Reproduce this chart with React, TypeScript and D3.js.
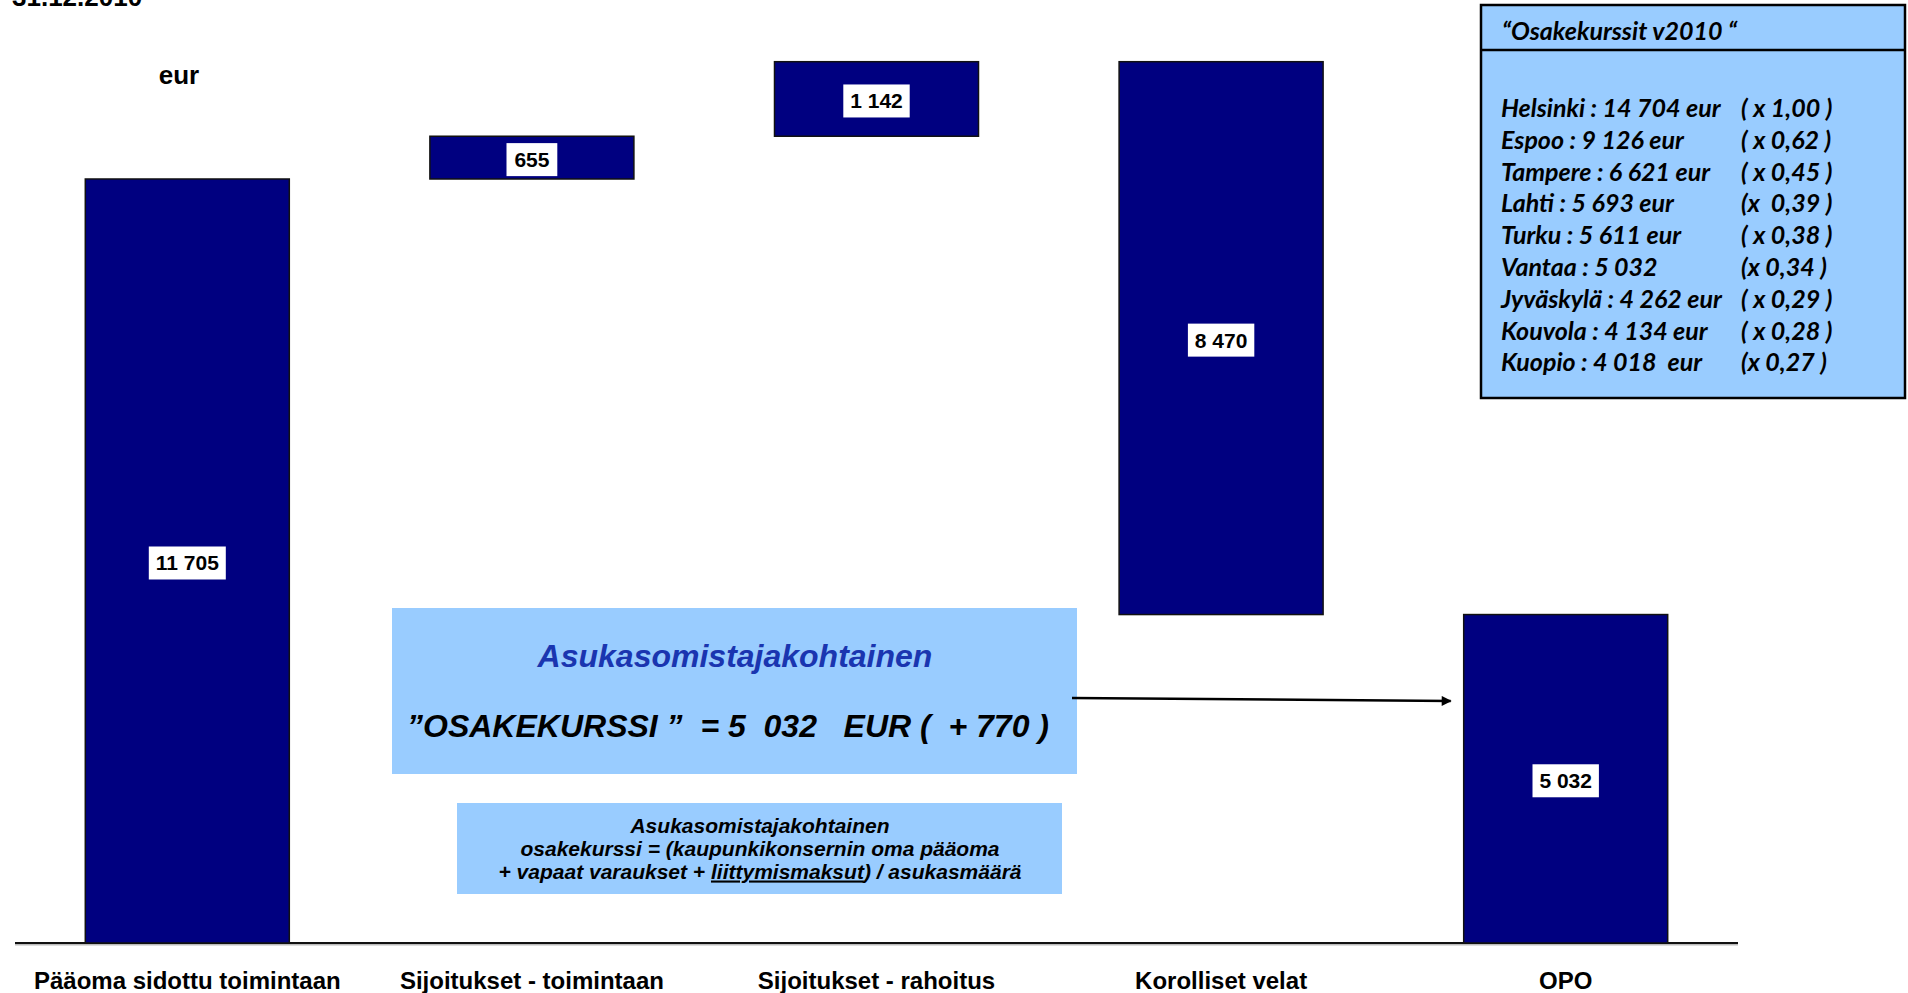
import React from "react";
import * as d3 from "d3";

// ---- Data ----
const categories = [
  "Pääoma sidottu toimintaan",
  "Sijoitukset - toimintaan",
  "Sijoitukset - rahoitus",
  "Korolliset velat",
  "OPO",
];
// waterfall: totals start at 0, deltas float on the running sum
const values = [11705, 655, 1142, -8470, 5032];
const kinds = ["total", "delta", "delta", "delta", "total"];

const dateLabel = "31.12.2010";
const unitLabel = "eur";

const legendTitle = "\u201COsakekurssit v2010 \u201C";
const legendNames = [
  "Helsinki : 14 704 eur",
  "Espoo : 9 126 eur",
  "Tampere : 6 621 eur",
  "Lahti : 5 693 eur",
  "Turku : 5 611 eur",
  "Vantaa : 5 032",
  "Jyväskylä : 4 262 eur",
  "Kouvola : 4 134 eur",
  "Kuopio : 4 018  eur",
];
const legendFactors = [
  "( x 1,00 )",
  "( x 0,62 )",
  "( x 0,45 )",
  "(x  0,39 )",
  "( x 0,38 )",
  "(x 0,34 )",
  "( x 0,29 )",
  "( x 0,28 )",
  "(x 0,27 )",
];

const boxTitle = "Asukasomistajakohtainen";
const boxValueLine = "\u201DOSAKEKURSSI \u201D  = 5  032   EUR (  + 770 )";
const noteLines = [
  "Asukasomistajakohtainen",
  "osakekurssi = (kaupunkikonsernin oma pääoma",
];
const noteLast = ["+ vapaat varaukset + ", "liittymismaksut", ") / asukasmäärä"];

// ---- Layout ----
const W = 1908;
const H = 993;
const baseY = 943;
const topY = 61.7;
const NAVY = "#000080";
const LIGHT = "#99CCFF";
const FONT = "'Liberation Sans', Arial, Helvetica, sans-serif";
const LFONT = "Lato, 'Open Sans', sans-serif";

const fmt = d3.formatLocale({
  thousands: " ",
  grouping: [3],
  decimal: ",",
  currency: ["", ""],
}).format(",");

type Bar = { cat: string; v: number; y0: number; y1: number };

function buildBars(): Bar[] {
  let run = 0;
  return categories.map((c, i) => {
    const v = values[i];
    let a: number, b: number;
    if (kinds[i] === "total") {
      a = 0;
      b = v;
      run = v;
    } else {
      a = run;
      b = run + v;
      run = b;
    }
    return { cat: c, v, y0: Math.min(a, b), y1: Math.max(a, b) };
  });
}

export default function App() {
  const bars = buildBars();
  const maxV = d3.max(bars, (d) => d.y1) as number;

  const x = d3
    .scaleBand<string>()
    .domain(categories)
    .range([15, 1738])
    .paddingInner(0.408)
    .paddingOuter(0.204);
  const y = d3.scaleLinear().domain([0, maxV]).range([baseY, topY]);

  const bw = x.bandwidth();

  // annotation geometry
  const bigBox = { x: 392, y: 608, w: 685, h: 166 };
  const noteBox = { x: 457, y: 803, w: 605, h: 91 };
  const lastX = (x(categories[4]) as number) - 13;
  const arrowY0 = 698;
  const arrowY1 = 701;

  const legend = { x: 1481, y: 5, w: 424, h: 393, header: 50 };
  const lfs = 25;

  return (
    <svg
      width={W}
      height={H}
      viewBox={`0 0 ${W} ${H}`}
      style={{ position: "absolute", left: 0, top: 0, background: "#fff" }}
    >
      <defs>
        <marker
          id="arr"
          viewBox="0 0 10 10"
          refX="9"
          refY="5"
          markerWidth="4.5"
          markerHeight="4"
          orient="auto"
          markerUnits="strokeWidth"
        >
          <path d="M0,0 L10,5 L0,10 z" fill="#000" />
        </marker>
      </defs>

      {/* date title */}
      <text x={12} y={6} fontFamily={FONT} fontWeight="bold" fontSize={26} fill="#000">
        {dateLabel}
      </text>
      <text
        x={179}
        y={84}
        textAnchor="middle"
        fontFamily={FONT}
        fontWeight="bold"
        fontSize={26}
        fill="#000"
      >
        {unitLabel}
      </text>

      {/* axis line */}
      <line x1={15} x2={1738} y1={baseY + 1.5} y2={baseY + 1.5} stroke="#bbb" strokeWidth={2} />
      <line x1={15} x2={1738} y1={baseY} y2={baseY} stroke="#111" strokeWidth={2} />

      {/* bars */}
      {bars.map((b) => {
        const bx = x(b.cat) as number;
        const yt = y(b.y1);
        const yb = y(b.y0);
        return (
          <rect
            key={b.cat}
            x={bx}
            y={yt}
            width={bw}
            height={yb - yt}
            fill={NAVY}
            stroke="#111"
            strokeWidth={1.5}
          />
        );
      })}

      {/* value labels */}
      {bars.map((b) => {
        const label = fmt(Math.abs(b.v));
        const cx = (x(b.cat) as number) + bw / 2;
        const cy = (y(b.y1) + y(b.y0)) / 2 + 2;
        const tw = label.length * 10.6 - (label.includes(" ") ? 5.6 : 0);
        const boxW = tw + 19;
        return (
          <g key={"l" + b.cat}>
            <rect x={cx - boxW / 2} y={cy - 16.5} width={boxW} height={33} fill="#fff" />
            <text
              x={cx}
              y={cy + 7.5}
              textAnchor="middle"
              fontFamily={FONT}
              fontWeight="bold"
              fontSize={21}
              fill="#000"
            >
              {label}
            </text>
          </g>
        );
      })}

      {/* category labels */}
      {categories.map((c) => (
        <text
          key={"c" + c}
          x={(x(c) as number) + bw / 2}
          y={989}
          textAnchor="middle"
          fontFamily={FONT}
          fontWeight="bold"
          fontSize={24}
          fill="#000"
        >
          {c}
        </text>
      ))}

      {/* big info box */}
      <rect x={bigBox.x} y={bigBox.y} width={bigBox.w} height={bigBox.h} fill={LIGHT} />
      <text
        x={735}
        y={667}
        textAnchor="middle"
        fontFamily={FONT}
        fontWeight="bold"
        fontStyle="italic"
        fontSize={32}
        fill="#1a35b0"
      >
        {boxTitle}
      </text>
      <text
        x={728}
        y={737}
        textAnchor="middle"
        fontFamily={FONT}
        fontWeight="bold"
        fontStyle="italic"
        fontSize={32}
        fill="#000"
        style={{ whiteSpace: "pre" }}
        xmlSpace="preserve"
      >
        {boxValueLine}
      </text>

      {/* arrow */}
      <line
        x1={bigBox.x + bigBox.w - 5}
        y1={arrowY0}
        x2={lastX}
        y2={arrowY1}
        stroke="#000"
        strokeWidth={2.5}
        markerEnd="url(#arr)"
      />

      {/* note box */}
      <rect x={noteBox.x} y={noteBox.y} width={noteBox.w} height={noteBox.h} fill={LIGHT} />
      {noteLines.map((t, i) => (
        <text
          key={"n" + i}
          x={760}
          y={832.5 + i * 23}
          textAnchor="middle"
          fontFamily={FONT}
          fontWeight="bold"
          fontStyle="italic"
          fontSize={21}
          fill="#000"
        >
          {t}
        </text>
      ))}
      <text
        x={760}
        y={832.5 + 2 * 23}
        textAnchor="middle"
        fontFamily={FONT}
        fontWeight="bold"
        fontStyle="italic"
        fontSize={21}
        fill="#000"
        style={{ whiteSpace: "pre" }}
        xmlSpace="preserve"
      >
        <tspan>{noteLast[0]}</tspan>
        <tspan textDecoration="underline" style={{ textDecoration: "underline" }}>
          {noteLast[1]}
        </tspan>
        <tspan>{noteLast[2]}</tspan>
      </text>

      {/* legend box */}
      <rect
        x={legend.x}
        y={legend.y}
        width={legend.w}
        height={legend.h}
        fill={LIGHT}
        stroke="#000"
        strokeWidth={2.5}
      />
      <line
        x1={legend.x}
        x2={legend.x + legend.w}
        y1={legend.header}
        y2={legend.header}
        stroke="#000"
        strokeWidth={2.5}
      />
      <text
        x={1502}
        y={40}
        fontFamily={LFONT}
        fontWeight="bold"
        fontStyle="italic"
        fontSize={lfs}
        fill="#000"
        style={{ whiteSpace: "pre" }}
        xmlSpace="preserve"
      >
        {legendTitle}
      </text>
      {legendNames.map((n, i) => (
        <g key={"lg" + i}>
          <text
            x={1501}
            y={117 + i * 31.8}
            fontFamily={LFONT}
            fontWeight="bold"
            fontStyle="italic"
            fontSize={lfs}
            fill="#000"
            style={{ whiteSpace: "pre" }}
            xmlSpace="preserve"
          >
            {n}
          </text>
          <text
            x={1741}
            y={117 + i * 31.8}
            fontFamily={LFONT}
            fontWeight="bold"
            fontStyle="italic"
            fontSize={lfs}
            fill="#000"
            style={{ whiteSpace: "pre" }}
            xmlSpace="preserve"
          >
            {legendFactors[i]}
          </text>
        </g>
      ))}
    </svg>
  );
}
